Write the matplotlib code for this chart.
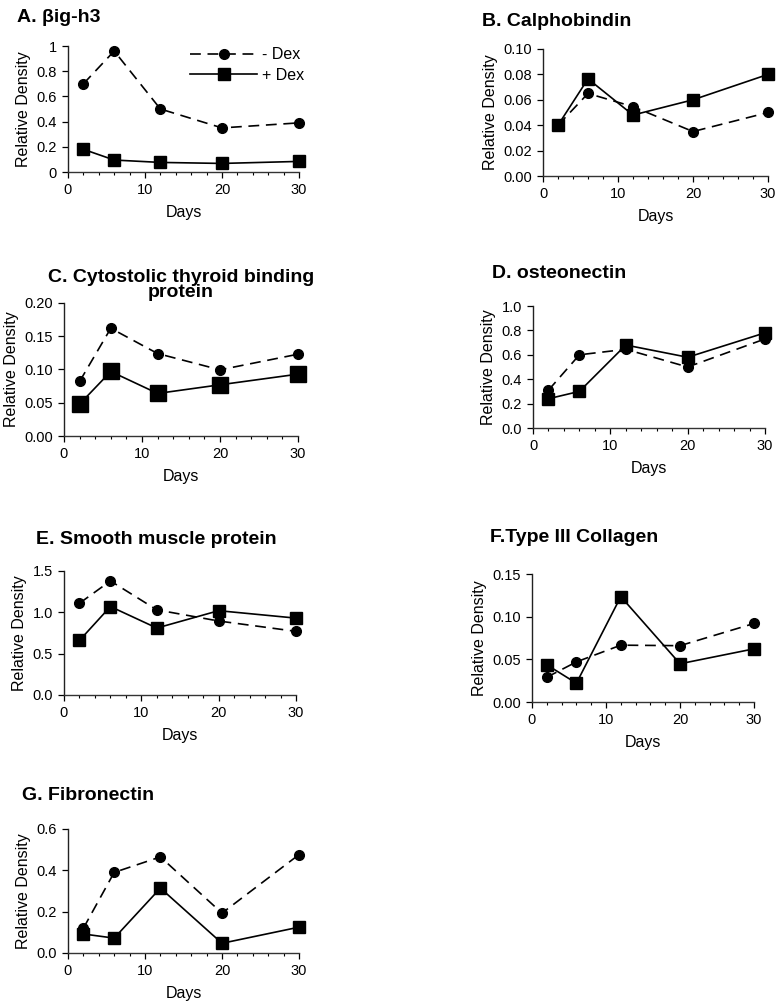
import numpy as np
import matplotlib
matplotlib.use('Agg')
import matplotlib.pyplot as plt
from matplotlib.ticker import MultipleLocator, FormatStrFormatter

plt.rcParams['font.family'] = ['Liberation Sans', 'DejaVu Sans']

days = [2, 6, 12, 20, 30]

# - Dex (circles, dashed) and + Dex (squares, solid) for each protein
bigh3_minus = [0.70, 0.96, 0.50, 0.35, 0.39]
bigh3_plus = [0.18, 0.095, 0.076, 0.068, 0.084]

calpho_minus = [0.040, 0.065, 0.0546, 0.035, 0.050]
calpho_plus = [0.040, 0.0765, 0.048, 0.060, 0.080]

ctbp_minus = [0.082, 0.162, 0.124, 0.0995, 0.123]
ctbp_plus = [0.048, 0.097, 0.064, 0.077, 0.093]

osteo_minus = [0.31, 0.60, 0.645, 0.50, 0.73]
osteo_plus = [0.24, 0.30, 0.68, 0.58, 0.78]

smooth_minus = [1.11, 1.38, 1.03, 0.895, 0.77]
smooth_plus = [0.66, 1.07, 0.81, 1.02, 0.93]

col3_minus = [0.029, 0.047, 0.0666, 0.066, 0.092]
col3_plus = [0.0436, 0.022, 0.1235, 0.0448, 0.0623]

fibro_minus = [0.12, 0.39, 0.465, 0.193, 0.476]
fibro_plus = [0.092, 0.072, 0.314, 0.047, 0.125]

W, H = 777, 1005
fig = plt.figure(figsize=(W / 100, H / 100), dpi=100)


def px_axes(x0, x1, ytop, ybot):
    return fig.add_axes([x0 / W, 1 - ybot / H, (x1 - x0) / W, (ybot - ytop) / H])


def panel(ax, minus, plus, ymax, ystep, fmt, sq=8.5):
    ax.plot(days, minus, color='black', ls=(0, (6.5, 4)), lw=1.2,
            marker='o', ms=7, label='- Dex')
    ax.plot(days, plus, color='black', ls='-', lw=1.2,
            marker='s', ms=sq, label='+ Dex')
    ax.set_xlim(0, 30)
    ax.set_ylim(0, ymax)
    ax.xaxis.set_major_locator(MultipleLocator(10))
    ax.xaxis.set_minor_locator(MultipleLocator(2))
    ax.yaxis.set_major_locator(MultipleLocator(ystep))
    if fmt:
        ax.yaxis.set_major_formatter(FormatStrFormatter(fmt))
    for s in ['top', 'right']:
        ax.spines[s].set_visible(False)
    ax.spines['left'].set_color('#222222')
    ax.spines['bottom'].set_color('#333333')
    ax.spines['left'].set_linewidth(1.0)
    ax.spines['bottom'].set_linewidth(1.0)
    ax.tick_params(which='major', direction='out', length=4, width=0.9,
                   labelsize=10.5, pad=4)
    ax.tick_params(which='minor', direction='out', length=2.5, width=0.8)
    ax.tick_params(axis='y', which='minor', left=False)
    ax.set_xlabel('Days', fontsize=11.5, labelpad=6)
    ax.set_ylabel('Relative Density', fontsize=11.5, labelpad=4)
    for ln in ax.lines:
        ln.set_clip_on(False)


def title(x, y, s, ha='left'):
    fig.text(x / W, 1 - y / H, s, fontsize=14, fontweight='bold',
             ha=ha, va='center', linespacing=0.8)


axA = px_axes(68, 299, 46, 172)
panel(axA, bigh3_minus, bigh3_plus, 1.0, 0.2, None)
axA.set_yticks([0, 0.2, 0.4, 0.6, 0.8, 1.0])
axA.set_yticklabels(['0', '0.2', '0.4', '0.6', '0.8', '1'])
axA.legend(loc='upper right', bbox_to_anchor=(1.07, 1.08), frameon=False,
           fontsize=11.5, handlelength=4.2, handletextpad=0.3,
           labelspacing=0.35, numpoints=1, borderpad=0.2)
title(17, 17, 'A. βig-h3')

axB = px_axes(543, 768, 49, 176)
panel(axB, calpho_minus, calpho_plus, 0.10, 0.02, '%.2f')
title(482, 22, 'B. Calphobindin')

axC = px_axes(64, 298, 303, 436)
panel(axC, ctbp_minus, ctbp_plus, 0.20, 0.05, '%.2f', sq=11)
title(181, 285, 'C. Cytostolic thyroid binding\nprotein', ha='center')

axD = px_axes(533, 765, 306, 428)
panel(axD, osteo_minus, osteo_plus, 1.0, 0.2, '%.1f')
title(492, 273, 'D. osteonectin')

axE = px_axes(64, 296, 571, 695)
panel(axE, smooth_minus, smooth_plus, 1.5, 0.5, '%.1f', sq=9)
title(36, 539, 'E. Smooth muscle protein')

axF = px_axes(532, 754, 574, 702)
panel(axF, col3_minus, col3_plus, 0.15, 0.05, '%.2f')
title(490, 537, 'F.Type III Collagen')

axG = px_axes(68, 299, 829, 953)
panel(axG, fibro_minus, fibro_plus, 0.6, 0.2, '%.1f')
title(22, 795, 'G. Fibronectin')

fig.savefig('out.png', dpi=100)
